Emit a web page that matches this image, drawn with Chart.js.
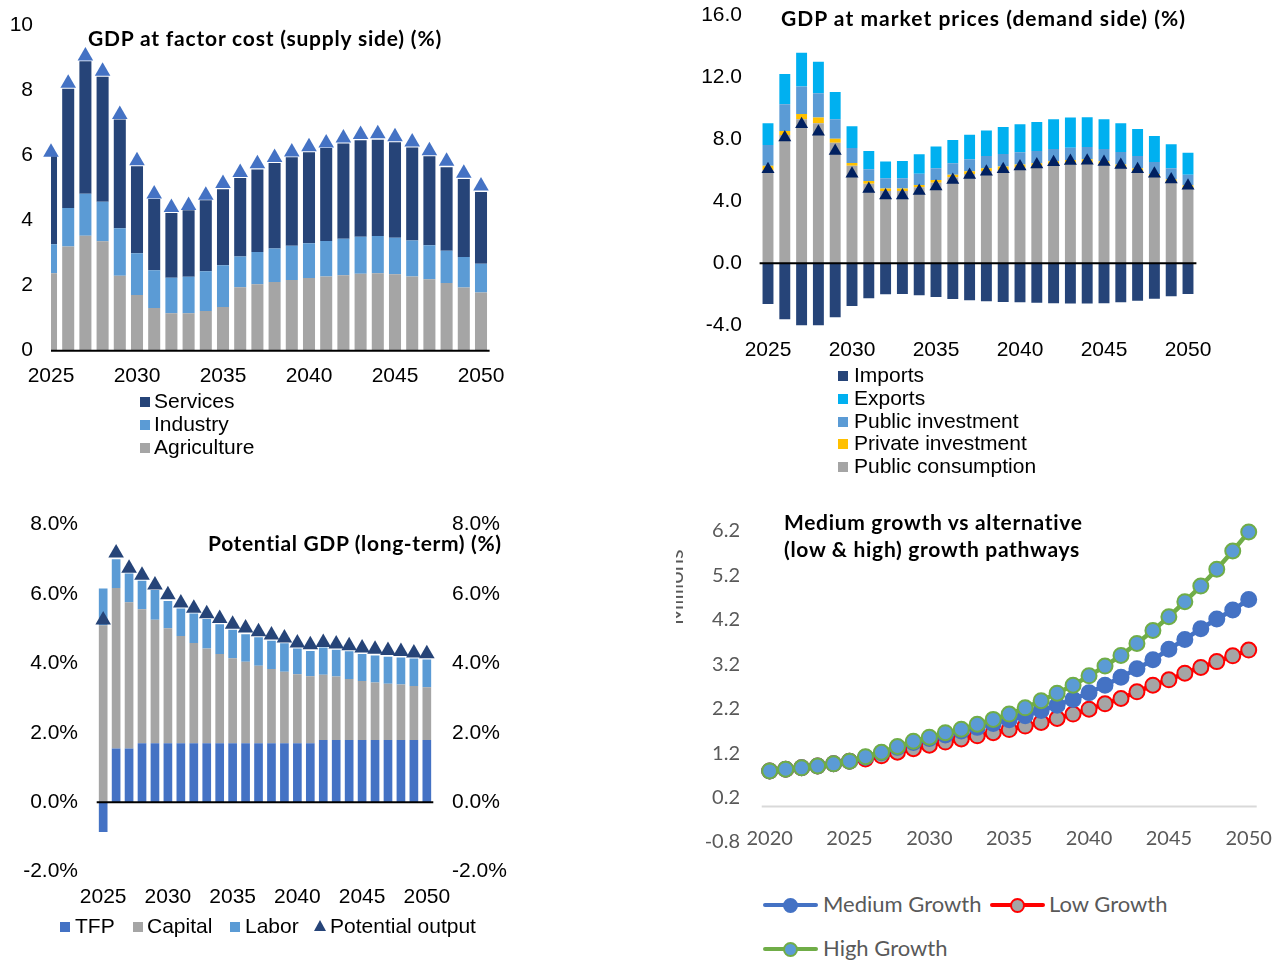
<!DOCTYPE html>
<html><head><meta charset="utf-8">
<script src="https://cdn.jsdelivr.net/npm/chart.js@4.4.1/dist/chart.umd.min.js"></script>
<style>
html,body{margin:0;padding:0;background:#fff;}
#root{position:relative;width:1287px;height:960px;overflow:hidden;background:#fff;}
canvas{position:absolute;}
.t{position:absolute;white-space:nowrap;}
.title{font-family:Lato,'Liberation Sans',sans-serif;font-weight:700;font-size:21px;line-height:24px;color:#000;}
.leg{font-family:'Liberation Sans',Arial,sans-serif;font-size:21px;line-height:24px;color:#000;}
.leg4{font-family:Lato,'Open Sans',sans-serif;font-size:22px;line-height:26px;color:#595959;}
.sq{position:absolute;width:10px;height:10px;}
</style></head><body><div id="root">
<canvas id="c1" style="left:0;top:0;width:520px;height:400px" width="520" height="400"></canvas>
<canvas id="c2" style="left:690px;top:0;width:597px;height:370px" width="597" height="370"></canvas>
<canvas id="c3" style="left:0;top:500px;width:540px;height:420px" width="540" height="420"></canvas>
<canvas id="c4" style="left:680px;top:500px;width:607px;height:370px" width="607" height="370"></canvas>
</div>
<script>
// ---------- DATA ----------
const years = [2025,2026,2027,2028,2029,2030,2031,2032,2033,2034,2035,2036,2037,2038,2039,2040,2041,2042,2043,2044,2045,2046,2047,2048,2049,2050];
const tickYears = [2025,2030,2035,2040,2045,2050];

// Chart 1: GDP at factor cost (supply side)
const agriculture = [2.38,3.20,3.53,3.36,2.30,1.71,1.31,1.15,1.15,1.22,1.34,1.95,2.04,2.11,2.17,2.23,2.28,2.32,2.36,2.38,2.35,2.28,2.19,2.08,1.94,1.79];
const industry    = [0.89,1.18,1.29,1.21,1.46,1.28,1.16,1.09,1.12,1.22,1.28,0.94,0.99,1.03,1.05,1.07,1.09,1.12,1.14,1.14,1.12,1.10,1.05,0.99,0.94,0.88];
const services    = [2.70,3.66,4.07,3.84,3.34,2.67,2.19,1.99,2.04,2.18,2.34,2.41,2.53,2.62,2.72,2.79,2.85,2.92,2.96,2.96,2.93,2.86,2.73,2.56,2.39,2.20];
const gdpFactor   = [6.09,8.21,9.05,8.58,7.25,5.83,4.81,4.40,4.46,4.77,5.13,5.47,5.74,5.93,6.10,6.26,6.38,6.53,6.64,6.66,6.57,6.41,6.14,5.82,5.45,5.06];
const yTicks1 = [0,2,4,6,8,10];

// Chart 2: GDP at market prices (demand side)
const publicConsumption = [6.02,8.28,9.29,9.03,7.78,6.30,5.14,4.67,4.67,4.90,5.20,5.55,5.76,5.96,6.02,6.17,6.28,6.39,6.45,6.49,6.39,6.17,5.91,5.57,5.20,4.82];
const privateInvestment = [0.28,0.26,0.34,0.37,0.26,0.17,0.17,0.15,0.15,0.15,0.18,0.17,0.18,0.17,0.22,0.20,0.17,0.19,0.22,0.22,0.19,0.20,0.22,0.19,0.22,0.21];
const publicInvestment  = [1.33,1.72,1.77,1.57,1.25,0.97,0.75,0.66,0.66,0.73,0.75,0.73,0.77,0.79,0.81,0.79,0.80,0.80,0.79,0.80,0.80,0.81,0.79,0.78,0.71,0.69];
const exportsS          = [1.40,1.96,2.19,2.04,1.76,1.40,1.19,1.08,1.12,1.25,1.40,1.51,1.59,1.64,1.75,1.81,1.87,1.91,1.94,1.91,1.91,1.85,1.75,1.68,1.55,1.42];
const importsS          = [-2.62,-3.61,-4.17,-4.09,-3.48,-2.75,-2.26,-2.00,-1.98,-2.06,-2.17,-2.30,-2.39,-2.45,-2.49,-2.52,-2.54,-2.58,-2.60,-2.60,-2.58,-2.52,-2.41,-2.28,-2.13,-1.98];
const gdpMarket         = [6.06,8.11,8.97,8.49,7.25,5.78,4.80,4.37,4.37,4.67,4.95,5.38,5.70,5.91,6.06,6.24,6.37,6.52,6.60,6.62,6.54,6.34,6.06,5.78,5.40,5.01];

// Chart 3: Potential GDP (long-term)
const tfp       = [-0.86,1.55,1.55,1.70,1.70,1.70,1.70,1.70,1.70,1.70,1.70,1.70,1.70,1.70,1.70,1.70,1.70,1.79,1.79,1.79,1.79,1.79,1.79,1.79,1.79,1.79];
const capital   = [5.10,4.62,4.21,3.86,3.56,3.31,3.09,2.89,2.73,2.57,2.45,2.35,2.23,2.14,2.06,1.99,1.93,1.88,1.83,1.76,1.70,1.66,1.62,1.60,1.56,1.52];
const labor     = [1.06,0.83,0.83,0.82,0.85,0.79,0.79,0.85,0.85,0.86,0.82,0.79,0.82,0.81,0.82,0.74,0.73,0.79,0.77,0.80,0.78,0.78,0.78,0.78,0.79,0.80];
const potential = [5.25,7.18,6.74,6.54,6.26,5.98,5.74,5.59,5.43,5.29,5.13,5.02,4.91,4.82,4.73,4.59,4.54,4.60,4.56,4.51,4.44,4.41,4.37,4.34,4.30,4.28];

// Chart 4: growth pathways (millions)
const years4 = [2020,2021,2022,2023,2024,2025,2026,2027,2028,2029,2030,2031,2032,2033,2034,2035,2036,2037,2038,2039,2040,2041,2042,2043,2044,2045,2046,2047,2048,2049,2050];
const tickYears4 = [2020,2025,2030,2035,2040,2045,2050];
const mediumGrowth = [0.80,0.84,0.87,0.91,0.96,1.02,1.11,1.21,1.33,1.44,1.53,1.61,1.70,1.78,1.87,1.95,2.04,2.16,2.28,2.41,2.56,2.73,2.91,3.10,3.30,3.54,3.76,4.00,4.22,4.42,4.66];
const lowGrowth    = [0.80,0.84,0.87,0.91,0.96,1.02,1.07,1.14,1.22,1.30,1.38,1.45,1.52,1.59,1.66,1.73,1.81,1.89,1.98,2.08,2.19,2.31,2.43,2.58,2.73,2.85,3.00,3.13,3.26,3.39,3.52];
const highGrowth   = [0.80,0.84,0.87,0.91,0.96,1.02,1.12,1.22,1.35,1.47,1.56,1.66,1.74,1.85,1.96,2.08,2.22,2.38,2.55,2.73,2.94,3.16,3.40,3.67,3.96,4.27,4.61,4.96,5.34,5.75,6.18];
const yTicks4 = [-0.8,0.2,1.2,2.2,3.2,4.2,5.2,6.2];

// ---------- STYLE ----------
const NAVY='#264478', MID='#5B9BD5', GRAY='#A5A5A5', BLUE='#4472C4', CYAN='#00B0F0', GOLD='#FFC000', DNAVY='#002060';
const F = {family:"'Liberation Sans', Arial, sans-serif", size:21};
const F4 = {family:"Lato, 'Open Sans', sans-serif", size:20};

const zeroLine = {
  id:'zeroLine',
  beforeDatasetsDraw(chart, a, o){ if(o.before) draw(chart,o); },
  afterDatasetsDraw(chart, a, o){ if(!o.before) draw(chart,o); }
};
function draw(chart,o){
  if(!o.color) return;
  const y = chart.scales.y.getPixelForValue(0);
  const {left,right} = chart.chartArea;
  const c = chart.ctx; c.save(); c.strokeStyle=o.color; c.lineWidth=o.width;
  c.beginPath(); c.moveTo(left,y); c.lineTo(right,y); c.stroke(); c.restore();
}
Chart.register(zeroLine);

const gap = (n)=>({display:false, drawTicks:true, tickLength:n});
const noBorder = {display:false};
const basePlugins = (zl)=>({legend:{display:false}, tooltip:{enabled:false}, title:{display:false}, zeroLine:zl});
const yearCb = function(v, i){ const y = years[i]; return tickYears.includes(y) ? String(y) : ''; };

// Chart 1
new Chart(document.getElementById('c1'), {
  type:'bar',
  data:{ labels: years, datasets:[
    {type:'line', label:'GDP at factor cost', data:gdpFactor, stack:'tri', showLine:false, pointStyle:'triangle', pointRadius:9, pointBackgroundColor:BLUE, pointBorderColor:BLUE, pointBorderWidth:0, clip:false},
    {label:'Agriculture', data:agriculture, backgroundColor:GRAY, stack:'s'},
    {label:'Industry', data:industry, backgroundColor:MID, stack:'s'},
    {label:'Services', data:services, backgroundColor:NAVY, stack:'s'}
  ]},
  options:{ responsive:false, animation:false, barPercentage:0.7, categoryPercentage:1,
    layout:{padding:{left:0,right:30.4,top:25,bottom:0}},
    plugins: basePlugins({color:'#000', width:2}),
    scales:{
      x:{type:'linear', min:2025, max:2050.5, offset:false, stacked:true, grid:gap(12.7), border:noBorder,
         afterBuildTicks:s=>{ s.ticks = tickYears.map(v=>({value:v})); },
         ticks:{padding:0, font:F, color:'#000', autoSkip:false, maxRotation:0, callback:v=>String(v)},
         afterFit:s=>{ s.height = 49.3; }},
      y:{stacked:true, min:0, max:10, grid:gap(18), border:noBorder,
         afterBuildTicks:s=>{ s.ticks = yTicks1.map(v=>({value:v})); },
         ticks:{padding:0, font:F, color:'#000', callback:v=>String(v)},
         afterFit:s=>{ s.width = 51; }}
    }
  }
});

// Chart 2
new Chart(document.getElementById('c2'), {
  type:'bar',
  data:{ labels: years, datasets:[
    {type:'line', label:'GDP', data:gdpMarket, stack:'tri', showLine:false, pointStyle:'triangle', pointRadius:7.5, pointBackgroundColor:DNAVY, pointBorderColor:DNAVY, pointBorderWidth:0},
    {label:'Public consumption', data:publicConsumption, backgroundColor:GRAY, stack:'s'},
    {label:'Private investment', data:privateInvestment, backgroundColor:GOLD, stack:'s'},
    {label:'Public investment', data:publicInvestment, backgroundColor:MID, stack:'s'},
    {label:'Exports', data:exportsS, backgroundColor:CYAN, stack:'s'},
    {label:'Imports', data:importsS, backgroundColor:NAVY, stack:'s'}
  ]},
  options:{ responsive:false, animation:false, barPercentage:0.65, categoryPercentage:1,
    layout:{padding:{left:0,right:90.6,top:15.3,bottom:0}},
    plugins: basePlugins({color:'#000', width:2}),
    scales:{
      x:{stacked:true, grid:gap(12.1), border:noBorder,
         ticks:{padding:0, font:F, color:'#000', autoSkip:false, maxRotation:0, callback:yearCb},
         afterFit:s=>{ s.height = 44.7; }},
      y:{stacked:true, min:-4, max:16, grid:gap(17.6), border:noBorder,
         ticks:{stepSize:4, padding:0, font:F, color:'#000', callback:v=>v.toFixed(1)},
         afterFit:s=>{ s.width = 69.6; }}
    }
  }
});

// Chart 3
new Chart(document.getElementById('c3'), {
  type:'bar',
  data:{ labels: years, datasets:[
    {type:'line', label:'Potential output', data:potential, stack:'tri', showLine:false, pointStyle:'triangle', pointRadius:9, pointBackgroundColor:NAVY, pointBorderColor:NAVY, pointBorderWidth:0},
    {label:'TFP', data:tfp, backgroundColor:BLUE, stack:'s'},
    {label:'Capital', data:capital, backgroundColor:GRAY, stack:'s'},
    {label:'Labor', data:labor, backgroundColor:MID, stack:'s'}
  ]},
  options:{ responsive:false, animation:false, barPercentage:0.67, categoryPercentage:1,
    layout:{padding:{left:0,right:0,top:24.5,bottom:0}},
    plugins: basePlugins({color:'#000', width:2}),
    scales:{
      x:{stacked:true, grid:gap(13.2), border:noBorder,
         ticks:{padding:0, font:F, color:'#000', autoSkip:false, maxRotation:0, callback:yearCb},
         afterFit:s=>{ s.height = 48.3; }},
      y:{stacked:true, min:-2, max:8, grid:gap(18.7), border:noBorder,
         ticks:{stepSize:2, padding:0, font:F, color:'#000', callback:v=>v.toFixed(1)+'%'},
         afterFit:s=>{ s.width = 96.7; }},
      y2:{position:'right', min:-2, max:8, grid:gap(18.7), border:noBorder,
         ticks:{stepSize:2, padding:0, font:F, color:'#000', callback:v=>v.toFixed(1)+'%'},
         afterFit:s=>{ s.width = 106.7; }}
    }
  }
});

// Chart 4
new Chart(document.getElementById('c4'), {
  type:'line',
  data:{ labels: years4, datasets:[
    {label:'Medium Growth', data:mediumGrowth, borderColor:BLUE, borderWidth:4.5, pointRadius:7.5, pointBackgroundColor:BLUE, pointBorderColor:BLUE, pointBorderWidth:2, order:2, clip:false},
    {label:'Low Growth', data:lowGrowth, borderColor:'#FF0000', borderWidth:4.5, pointRadius:7.5, pointBackgroundColor:GRAY, pointBorderColor:'#FF0000', pointBorderWidth:2, order:3, clip:false},
    {label:'High Growth', data:highGrowth, borderColor:'#70AD47', borderWidth:4.5, pointRadius:7.5, pointBackgroundColor:MID, pointBorderColor:'#70AD47', pointBorderWidth:2, order:1, clip:false}
  ]},
  options:{ responsive:false, animation:false,
    layout:{padding:{left:0,right:30.3,top:31,bottom:0}},
    plugins: basePlugins({color:'#D9D9D9', width:2, before:true}),
    scales:{
      x:{offset:true, grid:{display:false, drawTicks:false, tickLength:0}, border:noBorder,
         ticks:{mirror:true, padding:-9, font:F4, color:'#595959', autoSkip:false, maxRotation:0,
                callback:function(v,i){ const y = years4[i]; return tickYears4.includes(y) ? String(y) : ''; }},
         afterFit:s=>{ s.height = 28; }},
      y:{min:-0.8, max:6.2, grid:gap(21.7), border:noBorder,
         afterBuildTicks:s=>{ s.ticks = yTicks4.map(v=>({value:v})); },
         ticks:{padding:0, font:F4, color:'#595959', callback:v=>v.toFixed(1)},
         afterFit:s=>{ s.width = 81.7; }}
    }
  }
});

// ---------- TEXT (titles, legends) ----------
const root = document.getElementById('root');
function txt(s, x, cy, cls, lh){
  const d = document.createElement('div'); d.className = 't '+cls; d.textContent = s;
  d.style.left = x+'px'; d.style.top = (cy - lh/2)+'px'; root.appendChild(d); return d;
}
function fit(el, w){
  const n = el.textContent.length;
  const cur = el.getBoundingClientRect().width;
  el.style.letterSpacing = ((w - cur)/n)+'px';
}
function sq(x, cy, color){
  const d = document.createElement('div'); d.className='sq'; d.style.background=color;
  d.style.left=x+'px'; d.style.top=(cy-5)+'px'; root.appendChild(d);
}
fit(txt('GDP at factor cost (supply side) (%)', 88, 38, 'title', 24), 354);
fit(txt('GDP at market prices (demand side) (%)', 781, 18, 'title', 24), 405);
fit(txt('Potential GDP (long-term) (%)', 208, 543, 'title', 24), 294);
fit(txt('Medium growth vs alternative', 784, 522, 'title', 24), 299);
fit(txt('(low & high) growth pathways', 784, 549, 'title', 24), 296);

// legend 1
[['Services',NAVY],['Industry',MID],['Agriculture',GRAY]].forEach((e,i)=>{
  const cy = 401 + i*23; sq(140, cy+1, e[1]); txt(e[0], 154, cy, 'leg', 24);
});
// legend 2
[['Imports',NAVY],['Exports',CYAN],['Public investment',MID],['Private investment',GOLD],['Public consumption',GRAY]].forEach((e,i)=>{
  const cy = 375 + i*22.8; sq(838, cy+1, e[1]); txt(e[0], 854, cy, 'leg', 24);
});
// legend 3
sq(60, 927, BLUE); txt('TFP', 75, 926, 'leg', 24);
sq(133, 927, GRAY); txt('Capital', 147, 926, 'leg', 24);
sq(230, 927, MID); txt('Labor', 245, 926, 'leg', 24);
(function(){ const d=document.createElement('div'); d.style.cssText='position:absolute;left:314px;top:920px;width:0;height:0;border-left:6px solid transparent;border-right:6px solid transparent;border-bottom:11px solid '+NAVY+';'; root.appendChild(d); })();
txt('Potential output', 330, 926, 'leg', 24);
// legend 4
function lineSample(x, cy, line, fill, border){
  const l = document.createElement('div'); l.style.cssText=`position:absolute;left:${x}px;top:${cy-2.25}px;width:55px;height:4.5px;background:${line};border-radius:2px;`; root.appendChild(l);
  const c = document.createElement('div'); c.style.cssText=`position:absolute;left:${x+27.5-7.5}px;top:${cy-7.5}px;width:11px;height:11px;background:${fill};border:2px solid ${border};border-radius:50%;`; root.appendChild(c);
}
lineSample(763, 905, BLUE, BLUE, BLUE); txt('Medium Growth', 823, 904, 'leg4', 26);
lineSample(990, 905, '#FF0000', GRAY, '#FF0000'); txt('Low Growth', 1049, 904, 'leg4', 26);
lineSample(763, 949, '#70AD47', MID, '#70AD47'); txt('High Growth', 823, 948, 'leg4', 26);
// rotated, clipped axis title
(function(){
  const clip = document.createElement('div'); clip.style.cssText='position:absolute;left:676px;top:500px;width:30px;height:200px;overflow:hidden;';
  const s = document.createElement('div'); s.textContent='Millions';
  s.style.cssText="position:absolute;left:-12px;top:125px;transform-origin:0 0;transform:rotate(-90deg);font-family:Lato,'Open Sans',sans-serif;font-size:22px;line-height:22px;color:#595959;white-space:nowrap;";
  clip.appendChild(s); root.appendChild(clip);
})();
</script>
</body></html>
